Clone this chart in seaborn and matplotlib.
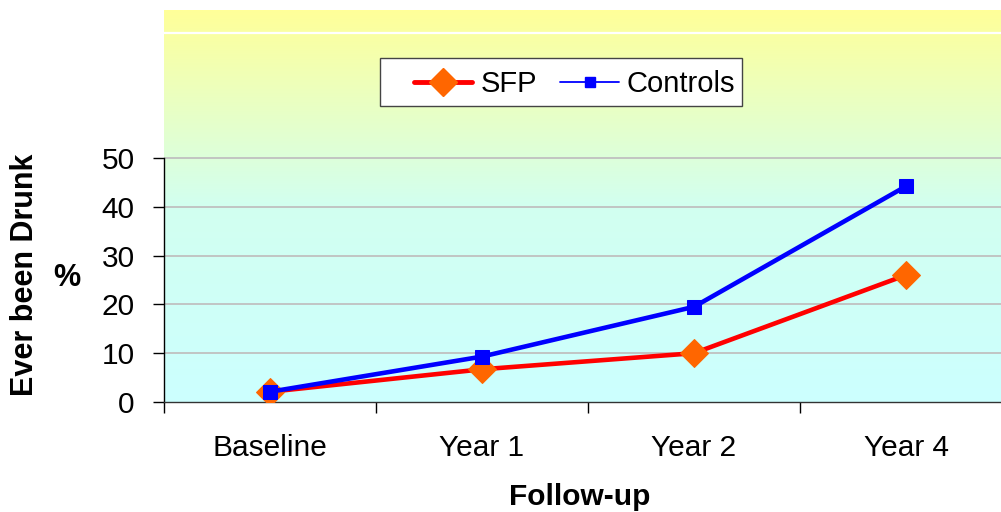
import numpy as np
import pandas as pd
import matplotlib
matplotlib.use("Agg")
import matplotlib.pyplot as plt
from matplotlib.lines import Line2D
from matplotlib.patches import Rectangle
from matplotlib.colors import LinearSegmentedColormap
import seaborn as sns

# Share of students who have ever been drunk, by follow-up wave
waves = ["Baseline", "Year 1", "Year 2", "Year 4"]
sfp = [2.1, 6.7, 10.0, 26.0]
controls = [2.1, 9.3, 19.5, 44.2]
y_ticks = [0, 10, 20, 30, 40, 50]

sns.set_theme(style="white")
plt.rcParams["font.family"] = ["Liberation Sans", "DejaVu Sans"]
plt.rcParams["text.color"] = "black"

df = pd.DataFrame({
    "wave": waves * 2,
    "pct": sfp + controls,
    "group": ["SFP"] * len(waves) + ["Controls"] * len(waves),
})
df["pos"] = np.tile(np.arange(len(waves)), 2)

W, H = 1001, 512
fig = plt.figure(figsize=(W / 100, H / 100), dpi=100)
ax = fig.add_axes([164 / W, 1 - 402 / H, 848 / W, 392 / H])

ymax = 80.3
ax.set_xlim(-0.5, len(waves) - 0.5)
ax.set_ylim(0, ymax)

# vertical yellow-to-cyan gradient behind the plot
grad = LinearSegmentedColormap.from_list("bg", ["#CCFFFF", "#D2FFF0", "#FFFF99"])
ax.imshow(np.linspace(0, 1, 256).reshape(-1, 1), cmap=grad, aspect="auto",
          origin="lower", extent=[-0.5, len(waves) - 0.5, 0, ymax], zorder=0)
ax.axhline(75.5, color="white", lw=1.6, zorder=1)

for t in y_ticks[1:]:
    ax.axhline(t, color="#C0C0C0", lw=1.3, zorder=1)

sns.lineplot(data=df[df.group == "SFP"], x="pos", y="pct", ax=ax,
             color="#FF0000", lw=3.3, marker="D", markersize=14,
             markerfacecolor="#FF6600", markeredgecolor="#FF6600",
             zorder=3, legend=False)
sns.lineplot(data=df[df.group == "Controls"], x="pos", y="pct", ax=ax,
             color="#0000FF", lw=3.3, marker="s", markersize=9.5,
             markerfacecolor="#0000FF", markeredgecolor="#0000FF",
             zorder=4, legend=False)

ax.set_xlim(-0.5, len(waves) - 0.5)
ax.set_ylim(0, ymax)

ax.set_yticks(y_ticks)
ax.set_yticklabels([str(t) for t in y_ticks], fontsize=21.5)
ax.tick_params(axis="y", direction="out", length=8, width=1, color="black",
               labelcolor="black", pad=13, left=True)

ax.set_xticks(np.arange(len(waves)))
ax.set_xticklabels(waves, fontsize=21.5)
ax.set_xticks(np.arange(len(waves) + 1) - 0.5, minor=True)
ax.tick_params(axis="x", which="major", length=0, pad=23, labelcolor="black")
ax.tick_params(axis="x", which="minor", direction="out", length=8,
               width=1, color="black", bottom=True)

ax.set_xlabel("")
ax.set_ylabel("")
for s in ("top", "right"):
    ax.spines[s].set_visible(False)
ax.spines["left"].set_bounds(0, 50)
ax.spines["left"].set_color("black")
ax.spines["left"].set_linewidth(1)
ax.spines["bottom"].set_color("#333333")
ax.spines["bottom"].set_linewidth(1)
ax.grid(False)

fig.text(25 / W, 1 - 275 / H, "Ever been Drunk", rotation=90,
         fontsize=22, fontweight="bold", ha="center", va="center")
fig.text(67 / W, 1 - 278 / H, "%", fontsize=22, fontweight="bold",
         ha="center", va="center")
fig.text(580 / W, 1 - 497 / H, "Follow-up", fontsize=21.5,
         fontweight="bold", ha="center", va="center")

# legend box, with the entries set inside it
fig.add_artist(Rectangle((380 / W, 1 - 106 / H), 362 / W, 48 / H,
                         transform=fig.transFigure, facecolor="white",
                         edgecolor="#444444", lw=1, zorder=4))
handles = [
    Line2D([], [], color="#FF0000", lw=3.5, marker="D", markersize=14,
           markerfacecolor="#FF6600", markeredgecolor="#FF6600"),
    Line2D([], [], color="#0000FF", lw=1.3, marker="s", markersize=7.5,
           markerfacecolor="#0000FF", markeredgecolor="#0000FF"),
]
leg = fig.legend(handles, ["SFP", "Controls"], loc="center left",
                 bbox_to_anchor=(414 / W, 1 - 84 / H), ncol=2,
                 fontsize=21, frameon=False, borderpad=0,
                 borderaxespad=0, handlelength=2.0, handletextpad=0.28,
                 columnspacing=0.8)
leg.set_zorder(5)

fig.savefig("out.png", dpi=100)
